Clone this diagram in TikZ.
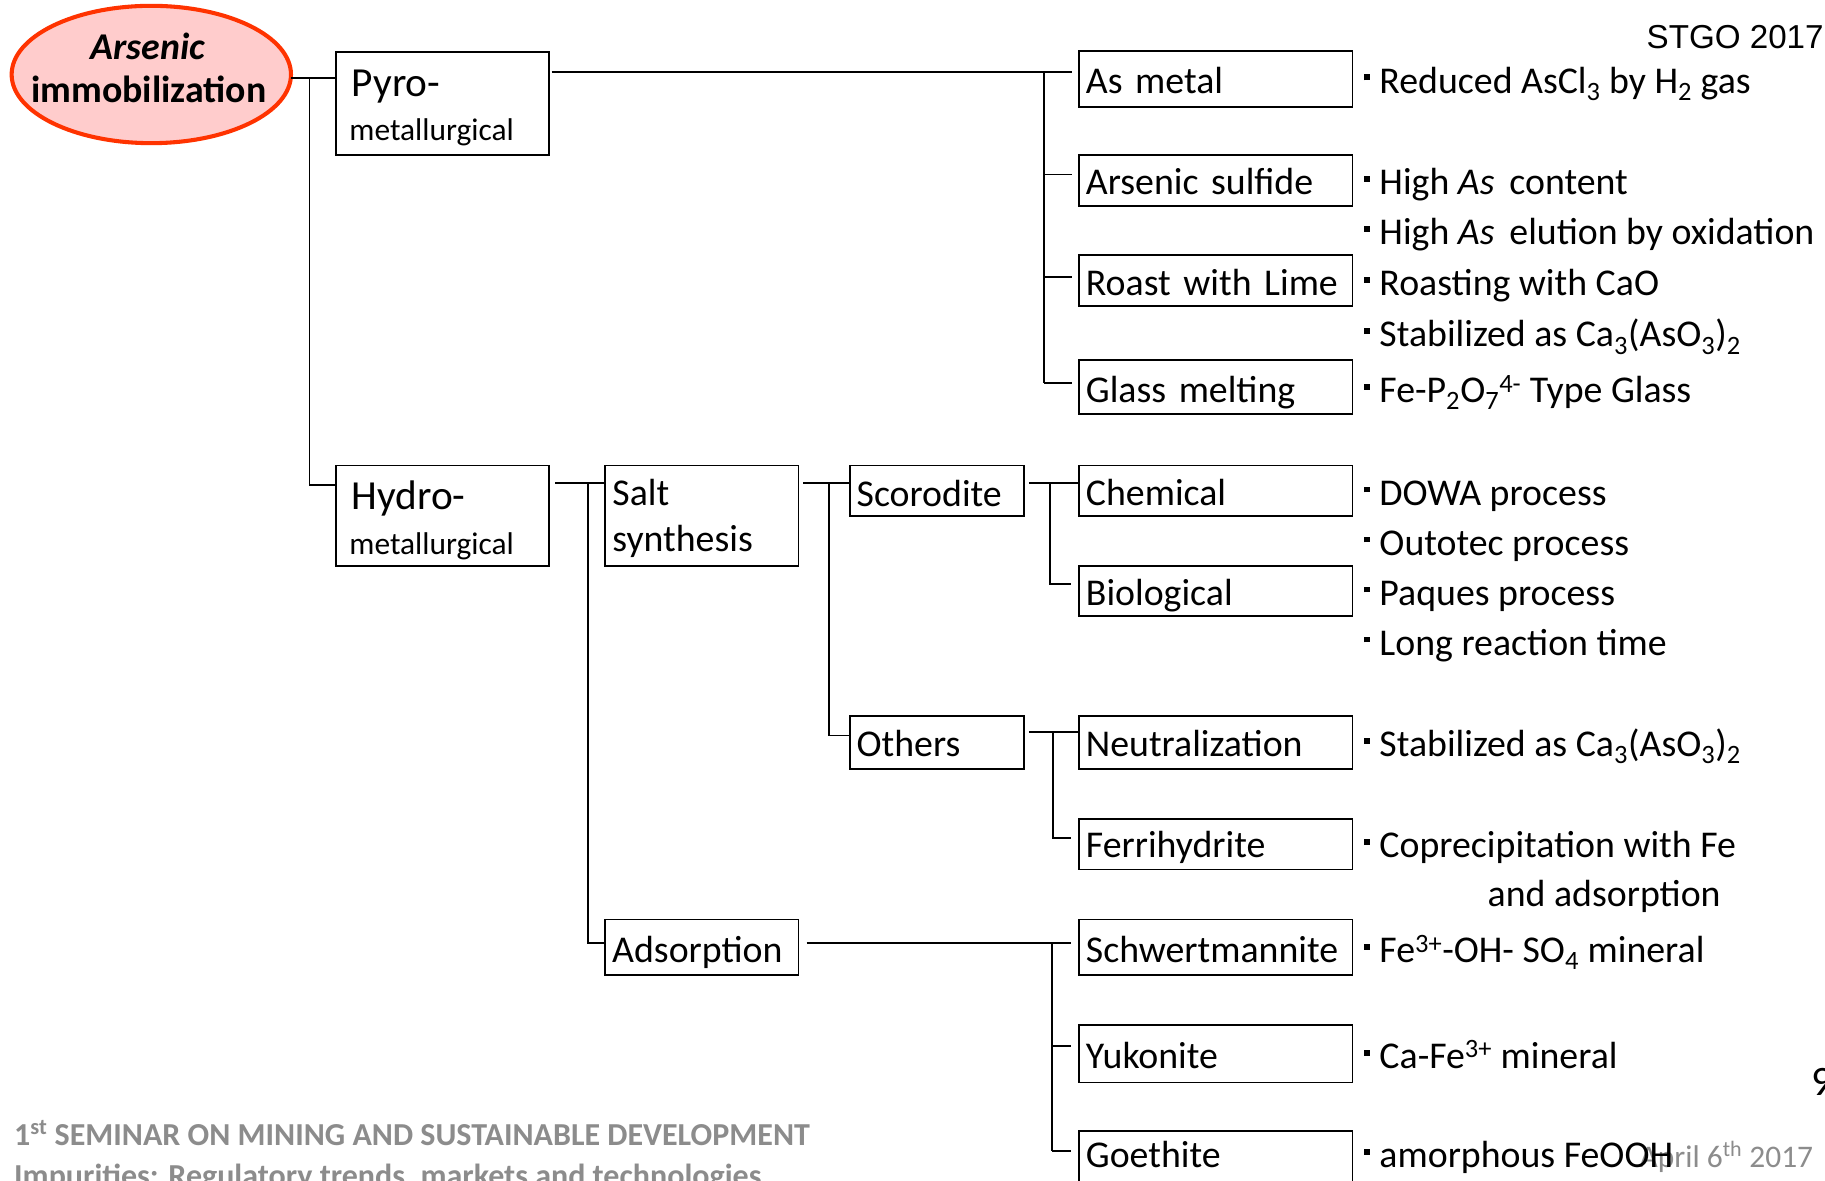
\documentclass[tikz,border=0pt]{standalone}
\usepackage{fontspec}
\setmainfont{Carlito}
\newfontfamily\arialf{Liberation Sans}
\usetikzlibrary{shapes.geometric}
\definecolor{ellpink}{RGB}{255,204,204}
\definecolor{ellred}{RGB}{255,51,0}
\definecolor{footgray}{RGB}{140,140,140}
\newcommand\bul{\rule[11pt]{5pt}{5pt}\hspace{8pt}}
\newcommand\fs[1]{\fontsize{#1}{1.2\dimexpr#1pt\relax}\selectfont}
\tikzset{
  bx/.style={draw=black, line width=1.6pt, rectangle, anchor=north west,
    inner xsep=6pt, inner ysep=0pt, outer sep=0pt, align=left, font=\fs{32.5}},
  ebox/.style={draw=black, line width=1.6pt, rectangle, anchor=north west,
    inner sep=0pt, outer sep=0pt},
  conn/.style={line width=1.5pt, draw=black},
  note/.style={anchor=base west, inner sep=0pt, font=\fs{32.5}},
  txt/.style={anchor=base west, inner sep=0pt},
}
\begin{document}
\begin{tikzpicture}[x=1pt,y=-1pt]
\useasboundingbox (0,0) rectangle (1568,1014);
\fill[white] (0,0) rectangle (1568,1014);
\clip (0,0) rectangle (1568,1014);

% root ellipse
\node[ellipse, draw=ellred, fill=ellpink, line width=3.5pt, minimum width=240pt,
      minimum height=118pt, inner sep=0pt, outer sep=0pt] (root) at (130,64) {};
\node[anchor=base, inner sep=0pt, font=\fs{32.5}\bfseries\itshape] (rt1) at (127,51) {Arsenic};
\node[anchor=base, inner sep=0pt, font=\fs{32.5}\bfseries] (rt2) at (128,88) {immobilization};

% level 1 boxes
\node[ebox, minimum width=183pt, minimum height=88pt] (pyro) at (289,45) {};
\node[txt, font=\fs{35.5}] (pyrot1) at (302,83) {Pyro-};
\node[txt, font=\fs{27}] (pyrot2) at (300,121) {metallurgical};
\node[ebox, minimum width=183pt, minimum height=86pt] (hydro) at (289,400) {};
\node[txt, font=\fs{35.5}] (hydrot1) at (302,438) {Hydro-};
\node[txt, font=\fs{27}] (hydrot2) at (300,476) {metallurgical};

% level 2 boxes
\node[ebox, minimum width=166pt, minimum height=86pt] (salt) at (520,400) {};
\node[txt, font=\fs{32.5}] (saltt1) at (526,434) {Salt};
\node[txt, font=\fs{32.5}] (saltt2) at (526,474) {synthesis};
\node[bx, text width=154pt, text height=37pt, text depth=11pt] (ads) at (520,790) {Adsorption};

% level 3 boxes
\node[bx, text width=138pt, text height=35pt, text depth=8pt] (sco) at (730,400) {Scorodite};
\node[bx, text width=138pt, text height=35pt, text depth=11pt] (oth) at (730,615) {Others};

% level 4 boxes
\node[bx, text width=223pt, text height=36pt, text depth=12pt] (asm) at (927,44) {As metal};
\node[bx, text width=223pt, text height=34pt, text depth=10pt] (ass) at (927,133) {Arsenic sulfide};
\node[bx, text width=223pt, text height=35pt, text depth=9pt] (rwl) at (927,219) {Roast with Lime};
\node[bx, text width=223pt, text height=37pt, text depth=10pt] (glm) at (927,309) {Glass melting};
\node[bx, text width=223pt, text height=34pt, text depth=9pt] (che) at (927,400) {Chemical};
\node[bx, text width=223pt, text height=34pt, text depth=9pt] (bio) at (927,486) {Biological};
\node[bx, text width=223pt, text height=35pt, text depth=11pt] (neu) at (927,615) {Neutralization};
\node[bx, text width=223pt, text height=33pt, text depth=10pt] (fer) at (927,704) {Ferrihydrite};
\node[bx, text width=223pt, text height=37pt, text depth=11pt] (sch) at (927,790) {Schwertmannite};
\node[bx, text width=223pt, text height=37pt, text depth=12pt] (yuk) at (927,881) {Yukonite};
\node[bx, text width=223pt, text height=31pt, text depth=19pt] (goe) at (927,972) {Goethite};

% connectors: root
\coordinate (jr) at (266,67);
\coordinate (jrh) at (266,417);
\draw[conn] (root.east |- jr) -- (pyro.west |- jr);
\draw[conn] (jr) -- (jrh) -- (hydro.west |- jrh);

% pyro group
\coordinate (jp) at (897,62);
\coordinate (tp1) at (897,150);
\coordinate (tp2) at (897,238);
\coordinate (tp3) at (897,329);
\draw[conn, shorten <=2pt, shorten >=6pt] (pyro.east |- jp) -- (asm.west |- jp);
\draw[conn] (jp) -- (tp3);
\draw[conn, shorten >=6pt] (tp1) -- (ass.west |- tp1);
\draw[conn, shorten >=6pt] (tp2) -- (rwl.west |- tp2);
\draw[conn, shorten >=6pt] (tp3) -- (glm.west |- tp3);

% hydro group
\coordinate (jh) at (505,415);
\coordinate (jha) at (505,810);
\draw[conn, shorten <=5pt] (hydro.east |- jh) -- (salt.west |- jh);
\draw[conn] (jh) -- (jha) -- (ads.west |- jha);

% salt group
\coordinate (js) at (712,415);
\coordinate (jso) at (712,632);
\draw[conn, shorten <=4pt] (salt.east |- js) -- (sco.west |- js);
\draw[conn] (js) -- (jso) -- (oth.west |- jso);

% scorodite group
\coordinate (jc) at (902,415);
\coordinate (jcb) at (902,502);
\draw[conn, shorten <=4pt] (sco.east |- jc) -- (che.west |- jc);
\draw[conn, shorten >=7pt] (jc) -- (jcb) -- (bio.west |- jcb);

% others group
\coordinate (jo) at (905,629);
\coordinate (jof) at (905,720);
\draw[conn, shorten <=4pt] (oth.east |- jo) -- (neu.west |- jo);
\draw[conn, shorten >=7pt] (jo) -- (jof) -- (fer.west |- jof);

% adsorption group
\coordinate (ja) at (904,810);
\coordinate (jay) at (904,899);
\coordinate (jag) at (904,989);
\draw[conn, shorten <=7pt, shorten >=7pt] (ads.east |- ja) -- (sch.west |- ja);
\draw[conn] (ja) -- (jag);
\draw[conn, shorten >=7pt] (jay) -- (yuk.west |- jay);
\draw[conn, shorten >=7pt] (jag) -- (goe.west |- jag);

% footer and page marks (drawn before notes so notes lie on top)
\node[txt, text=footgray, font=\fs{27.5}\bfseries] (ft1) at (12,984) {1\textsuperscript{st} SEMINAR ON MINING AND SUSTAINABLE DEVELOPMENT};
\node[txt, text=footgray, font=\fs{27.5}\bfseries] (ft2) at (12,1019) {Impurities: Regulatory trends, markets and technologies};
\node[anchor=base east, inner sep=0pt, text=footgray, font=\fs{27}] (apr) at (1558,1003) {April 6\textsuperscript{th} 2017};
\node[anchor=base east, inner sep=0pt, font=\arialf\fs{28.5}] (stgo) at (1567,41.5) {STGO 2017};
\node[txt, font=\fs{36}] (pg) at (1556,941) {9};

% notes
\node[note] (n1) at (1172,80) {\bul Reduced AsCl\textsubscript{3} by H\textsubscript{2} gas};
\node[note] (n2) at (1172,167) {\bul High \textit{As}\, content};
\node[note] (n3) at (1172,210) {\bul High \textit{As}\, elution by oxidation};
\node[note] (n4) at (1172,254) {\bul Roasting with CaO};
\node[note] (n5) at (1172,298) {\bul Stabilized as Ca\textsubscript{3}(AsO\textsubscript{3})\textsubscript{2}};
\node[note] (n6) at (1172,346) {\bul Fe-P\textsubscript{2}O\textsubscript{7}\textsuperscript{4-} Type Glass};
\node[note] (n7) at (1172,434) {\bul DOWA process};
\node[note] (n8) at (1172,477) {\bul Outotec process};
\node[note] (n9) at (1172,520) {\bul Paques process};
\node[note] (n10) at (1172,563) {\bul Long reaction time};
\node[note] (n11) at (1172,650) {\bul Stabilized as Ca\textsubscript{3}(AsO\textsubscript{3})\textsubscript{2}};
\node[note] (n12) at (1172,737) {\bul Coprecipitation with Fe};
\node[note] (n13) at (1278,779) {and adsorption};
\node[note] (n14) at (1172,827) {\bul Fe\textsuperscript{3+}-OH- SO\textsubscript{4} mineral};
\node[note] (n15) at (1172,918) {\bul Ca-Fe\textsuperscript{3+} mineral};
\node[note] (n16) at (1172,1003) {\bul amorphous FeOOH};
\end{tikzpicture}
\end{document}
